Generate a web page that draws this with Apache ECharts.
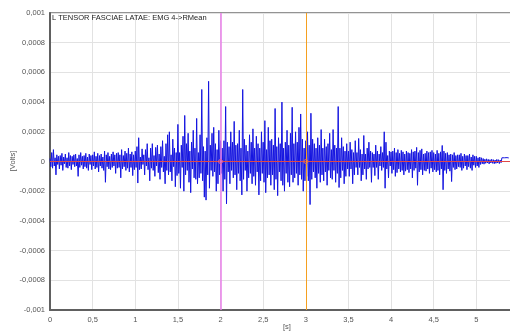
<!DOCTYPE html>
<html>
<head>
<meta charset="utf-8">
<script src="https://cdn.jsdelivr.net/npm/echarts@6/dist/echarts.min.js"></script>
<style>html,body{margin:0;padding:0;background:#fff;}#c{width:510px;height:336px;}</style>
</head>
<body>
<div id="c"></div>
<script>
// Sampling interval of the EMG trace (s)
const sampleInterval = 0.01;
// EMG values in microvolts, one segment per second
const emgSeg0 = [
20,-35,60,-45,80,-30,25,-90,45,-20,
35,-50,40,-25,55,-60,30,-15,50,-40,
25,-45,60,-30,40,-55,35,-20,45,-35,
50,-30,20,-100,45,-40,60,-25,35,-50,
40,-35,55,-45,30,-60,50,-20,40,-55,
45,-30,65,-50,35,-40,55,-70,40,-30,
50,-45,30,-60,70,-140,45,-35,60,-50,
35,-55,50,-40,65,-30,45,-80,55,-45,
60,-40,45,-110,80,-50,40,-35,70,-60,
55,-45,90,-70,50,-40,65,-95,45,-55];
const emgSeg1 = [
70,-40,100,-145,160,-55,30,-50,85,-20,
45,-90,80,-30,120,-55,25,-130,90,-45,
120,-60,40,-100,95,-30,110,-75,50,-120,
100,-40,140,-70,35,-150,120,-60,180,-90,
200,-70,45,-130,150,-35,90,-170,60,-95,
250,-80,60,-180,110,-40,170,-200,310,-90,
120,-60,190,-140,70,-210,130,-50,210,-110,
90,-120,290,-150,60,-110,180,-80,485,-130,
100,-240,70,-260,160,-90,540,-180,110,-60,
190,-100,230,-70,120,-200,80,-150,210,-90];
const emgSeg2 = [
140,-80,90,-200,140,-120,370,-285,130,-70,
100,-150,200,-60,130,-110,270,-90,110,-190,
120,-80,210,-130,90,-225,485,-120,150,-60,
110,-200,70,-110,180,-80,130,-150,220,-100,
90,-160,170,-70,120,-225,90,-130,200,-80,
130,-140,275,-210,80,-110,230,-90,140,-160,
150,-90,110,-190,357,-120,100,-230,160,-70,
120,-130,400,-160,90,-200,130,-80,210,-140,
110,-170,190,-90,365,-140,120,-110,200,-80,
130,-160,230,-90,320,-120,150,-200,90,-130];
const emgSeg3 = [
140,-100,200,-130,110,-290,325,-120,150,-70,
120,-110,90,-180,160,-80,110,-140,215,-90,
90,-130,150,-70,100,-160,120,-60,190,-110,
80,-120,215,-60,110,-140,90,-80,370,-175,
90,-110,160,-60,100,-150,70,-100,120,-50,
70,-100,130,-50,80,-150,60,-90,140,-40,
60,-90,155,-40,80,-130,50,-90,175,-50,
50,-120,90,-50,130,-40,70,-140,60,-40,
50,-95,110,-40,70,-120,50,-30,100,-60,
60,-40,200,-180,130,-50,40,-110,70,-30];
const emgSeg4 = [
65,-80,70,-55,90,-100,60,-75,80,-50,
55,-70,75,-60,65,-90,50,-65,70,-55,
60,-75,55,-50,80,-110,65,-60,70,-45,
95,-160,60,-70,75,-55,85,-90,50,-60,
55,-65,70,-50,60,-80,65,-45,75,-70,
60,-55,50,-70,75,-60,55,-90,65,-50,
108,-190,70,-60,55,-80,60,-50,45,-65,
50,-135,45,-40,60,-55,40,-50,45,-35,
45,-40,55,-60,35,-45,50,-30,40,-55,
40,-35,50,-45,30,-60,45,-25,35,-40];
const emgSeg5 = [
35,-30,25,-40,30,-20,25,-15,20,-18,
15,-12,18,-10,14,-16,12,-10,15,-12,
12,-15,10,-12,14,-10,12,-14,10,-8,
25,26,24,25,27,24,26,25,24];

const cursorTimes = [2, 3];
const meanValue = 0;
const titleText = 'L TENSOR FASCIAE LATAE: EMG 4->RMean';
const yAxisTitle = '[Volts]';
const xAxisTitle = '[s]';

const emgMicroVolts = [].concat(emgSeg0, emgSeg1, emgSeg2, emgSeg3, emgSeg4, emgSeg5);
const seriesData = emgMicroVolts.map((v, i) => [Math.round(i * sampleInterval * 1000) / 1000, v * 1e-6]);

const fmt = v => String(Math.round(v * 1e5) / 1e5).replace('.', ',');
const font = 'Liberation Sans';

const chart = echarts.init(document.getElementById('c'));
chart.setOption({
  animation: false,
  backgroundColor: '#fff',
  grid: { left: 50, right: -3, top: 13, bottom: 26, containLabel: false, outerBoundsMode: 'none',
          show: true, borderColor: '#707070', borderWidth: 1.5, backgroundColor: 'transparent' },
  xAxis: {
    type: 'value', min: 0, max: 5.43, interval: 0.5,
    axisLine: { show: true, onZero: false, lineStyle: { color: '#606060', width: 2 } },
    axisTick: { show: false },
    axisLabel: { color: '#555', fontFamily: font, fontSize: 7.5, margin: 6, showMaxLabel: false, formatter: fmt },
    splitLine: { show: true, lineStyle: { color: '#e2e2e2', width: 1 } }
  },
  yAxis: {
    type: 'value', min: -0.001, max: 0.001, interval: 0.0002,
    axisLine: { show: true, lineStyle: { color: '#606060', width: 2 } },
    axisTick: { show: false },
    axisLabel: { color: '#555', fontFamily: font, fontSize: 7.5, margin: 5, formatter: fmt },
    splitLine: { show: true, lineStyle: { color: '#e2e2e2', width: 1 } }
  },
  series: [{
    type: 'line', data: seriesData, showSymbol: false, symbol: 'none',
    lineStyle: { color: '#1414e0', width: 1 },
    markLine: {
      silent: true, symbol: 'none', label: { show: false },
      data: [
        { yAxis: meanValue, lineStyle: { color: '#e04848', width: 1, type: 'solid' } },
        { xAxis: cursorTimes[0], lineStyle: { color: '#e87ee8', width: 1.5, type: 'solid' } },
        { xAxis: cursorTimes[1], lineStyle: { color: '#f5a020', width: 1, type: 'solid' } }
      ]
    },
    markPoint: {
      silent: true, symbol: 'circle', symbolSize: 4, label: { show: false },
      data: [
        { coord: [cursorTimes[0], meanValue], itemStyle: { color: 'transparent', borderColor: '#e060a0', borderWidth: 1 } },
        { coord: [cursorTimes[1], meanValue], itemStyle: { color: 'transparent', borderColor: '#e07060', borderWidth: 1 } }
      ]
    }
  }],
  graphic: [
    { type: 'text', z: 100, left: 52, top: 14, style: { text: titleText, fill: '#222', font: '7.5px "Liberation Sans"' } },
    { type: 'text', z: 100, left: 283, top: 323, style: { text: xAxisTitle, fill: '#555', font: '7.5px "Liberation Sans"' } },
    { type: 'text', z: 100, x: 13, y: 161, rotation: Math.PI / 2,
      style: { text: yAxisTitle, fill: '#555', font: '7.5px "Liberation Sans"', align: 'center', verticalAlign: 'middle' } }
  ]
});
</script>
</body>
</html>
